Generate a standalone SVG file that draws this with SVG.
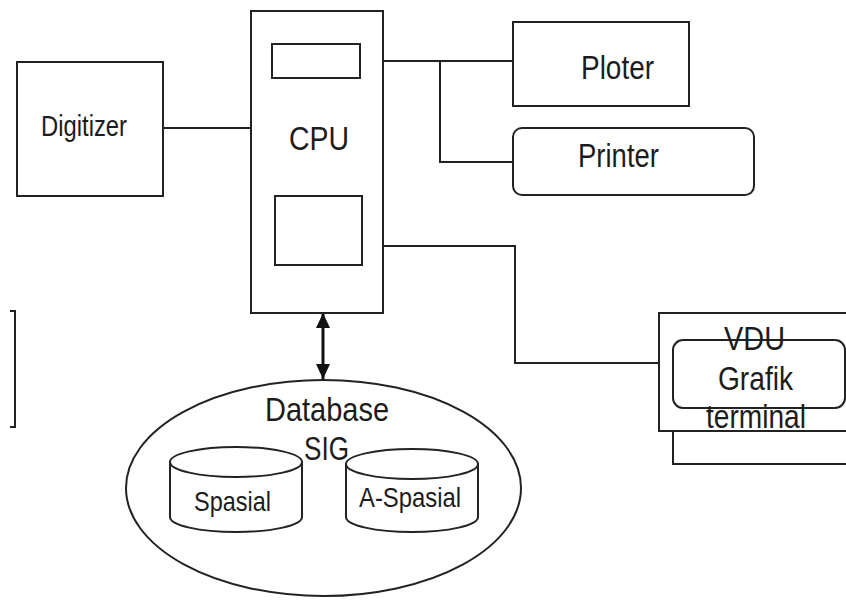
<svg xmlns="http://www.w3.org/2000/svg" width="846" height="600" viewBox="0 0 846 600">
<defs>
<style>
.box{fill:#fff;stroke:#222;stroke-width:2}
.nofill{fill:none;stroke:#222;stroke-width:2}
.wire{fill:none;stroke:#222;stroke-width:2}
.t{font-family:"Liberation Sans",Arial,sans-serif;fill:#1c1c1c;text-anchor:middle}
.big{font-size:33px}
.mid{font-size:29px}
.sm{font-size:28px}
</style>
<marker id="ah" viewBox="0 0 15 14" refX="15" refY="7" markerWidth="15" markerHeight="14" markerUnits="userSpaceOnUse" orient="auto-start-reverse">
<path d="M0,0 L15,7 L0,14 z" fill="#111"/>
</marker>
</defs>
<rect width="846" height="600" fill="#fff"/>

<g id="connectors">
<path class="wire" d="M163,128 H251"/>
<path class="wire" d="M383,61 H513 M440,61 V162 H513"/>
<path class="wire" d="M383,246 H515 V363 H659"/>
<path d="M323,313 V379" stroke="#111" stroke-width="3" fill="none" marker-start="url(#ah)" marker-end="url(#ah)"/>
</g>

<g id="digitizer">
<rect class="box" x="17" y="62" width="146" height="134"/>
<text class="t mid" x="84" y="136" textLength="86" lengthAdjust="spacingAndGlyphs">Digitizer</text>
</g>

<g id="cpu">
<rect class="box" x="251" y="11" width="132" height="302"/>
<rect class="box" x="272" y="44" width="88" height="34"/>
<rect class="box" x="275" y="196" width="87" height="69"/>
<text class="t big" x="319" y="150" textLength="60" lengthAdjust="spacingAndGlyphs">CPU</text>
</g>

<g id="ploter">
<rect class="box" x="513" y="22" width="176" height="84"/>
<text class="t big" x="617.5" y="79" textLength="73" lengthAdjust="spacingAndGlyphs">Ploter</text>
</g>

<g id="printer">
<rect class="box" x="513" y="128" width="241" height="67" rx="9"/>
<text class="t big" x="618.5" y="167" textLength="81" lengthAdjust="spacingAndGlyphs">Printer</text>
</g>

<g id="vdu">
<rect class="box" x="673" y="330" width="200" height="134"/>
<rect class="box" x="659" y="313" width="220" height="118"/>
<rect class="nofill" x="673" y="340" width="172" height="68" rx="10"/>
<text class="t big" x="754.5" y="350" textLength="61" lengthAdjust="spacingAndGlyphs">VDU</text>
<text class="t big" x="755.5" y="390" textLength="75" lengthAdjust="spacingAndGlyphs">Grafik</text>
<text class="t big" x="756" y="428" textLength="100" lengthAdjust="spacingAndGlyphs">terminal</text>
</g>

<g id="bracket">
<path class="wire" d="M10,311 H15 V427 H10"/>
</g>

<g id="database">
<ellipse class="box" cx="323.5" cy="488" rx="197.5" ry="108"/>
<text class="t big" x="327" y="421" textLength="124" lengthAdjust="spacingAndGlyphs">Database</text>
<g id="spasial">
<path class="box" d="M170,462 V517 A66,15 0 0 0 302,517 V462"/>
<ellipse class="box" cx="236" cy="462" rx="66" ry="15"/>
<text class="t sm" x="232.5" y="511" textLength="77" lengthAdjust="spacingAndGlyphs">Spasial</text>
</g>
<g id="a-spasial">
<path class="box" d="M346,464 V517 A66,15 0 0 0 478,517 V464"/>
<ellipse class="box" cx="412" cy="464" rx="66" ry="15"/>
<text class="t sm" x="410" y="507" textLength="102" lengthAdjust="spacingAndGlyphs">A-Spasial</text>
</g>
<text class="t big" x="326.5" y="460" textLength="45" lengthAdjust="spacingAndGlyphs">SIG</text>
</g>
</svg>
